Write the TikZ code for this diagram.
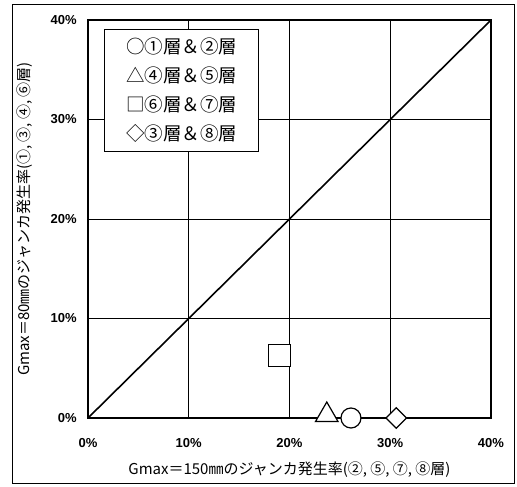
\documentclass[tikz,border=0pt]{standalone}
\usepackage{fontspec}
\setmainfont{Noto Sans CJK JP}
\newfontfamily\tickfont{Liberation Sans}
\usetikzlibrary{calc}
\usetikzlibrary{shapes, positioning}
\tikzset{>=stealth}
\tikzset{
  grid line/.style={line width=.8pt},
  tick label/.style={font=\tickfont\bfseries\fontsize{13}{13}\selectfont, inner sep=0pt},
  mark node/.style={draw, fill=white, line width=1.2pt, inner sep=0pt},
}

\begin{document}
\begin{tikzpicture}[x=1pt,y=-1pt]
        \useasboundingbox (0,0) rectangle (517,487);
        \draw [line width=.8pt] (12,4) rectangle (514,483);
        % plot in percent
        \begin{scope}[shift={(88pt,-418pt)}, x=10.075pt, y=9.95pt]
        \coordinate (o) at (0,0);
        \coordinate (e) at (40,40);
        \foreach \v in {10,20,30}{
          \draw [grid line] (\v,0)--(\v,40);
          \draw [grid line] (0,\v)--(40,\v);
        }
        \draw [line width=1.6pt] (o) rectangle (e);
        \draw [line width=1.6pt] (o)--(e);
        \foreach \v in {0,10,20,30,40}{
          \node [tick label] at (\v,-2.5) {\v\%};
          \node [tick label, anchor=east] at (-1.1,\v) {\v\%};
        }
        \node at (20,-5.2) [font=\fontsize{15}{15}\selectfont] {Gmax＝150㎜のジャンカ発生率(②, ⑤, ⑦, ⑧層)};
        \node at (-6.3,20) [rotate=90, font=\fontsize{15}{15}\selectfont] {Gmax＝80㎜のジャンカ発生率(①, ③, ④, ⑥層)};
        % data points
        \node [mark node, rectangle, minimum size=22pt] (sq) at (19,6.3) {};
        \node [mark node, regular polygon, regular polygon sides=3, minimum size=26pt] (tri) at (23.7,0.3) {};
        \node [mark node, circle, minimum size=20pt] (ci) at (26.1,0) {};
        \node [mark node, diamond, minimum size=21pt] (di) at (30.6,0) {};
        \end{scope}
        % legend
        \node [draw, fill=white, line width=1pt, anchor=north west, align=left,
               minimum width=154pt, minimum height=122pt, inner xsep=14pt,
               font=\fontsize{18.5}{29}\selectfont] (legend) at (104,29)
          {○①層＆②層\\△④層＆⑤層\\□⑥層＆⑦層\\◇③層＆⑧層};
      \end{tikzpicture}
\end{document}
